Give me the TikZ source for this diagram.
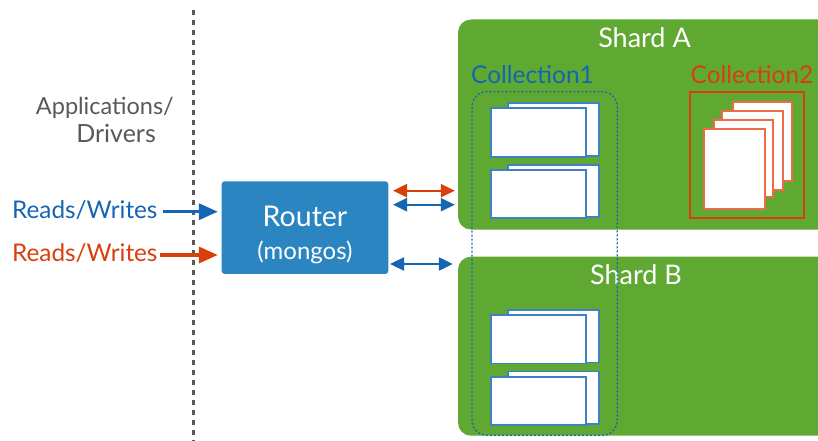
\documentclass[tikz,border=0pt]{standalone}
\usepackage{fontspec}
\setmainfont{Lato}
\usetikzlibrary{calc,arrows.meta}
\definecolor{cblue}{HTML}{1565B4}
\definecolor{cred}{HTML}{D93F0B}
\definecolor{cgreen}{HTML}{5FA832}
\definecolor{crouter}{HTML}{2B85C1}
\definecolor{cgray}{HTML}{58595B}
\definecolor{cpage}{HTML}{3F82C4}
\definecolor{cpager}{HTML}{EE6C45}
\tikzset{
  x=1pt,y=-1pt,
  shardbox/.style={fill=cgreen,rounded corners=13pt,inner sep=0pt,minimum width=392pt},
  routerbox/.style={fill=crouter,rounded corners=3pt,inner sep=0pt,minimum width=166.6pt,minimum height=92.7pt},
  shardlabel/.style={text=white,font=\fontsize{27}{30}\selectfont,inner sep=0pt},
  colllabel/.style={font=\fontsize{24.4}{30}\selectfont,inner sep=0pt},
  rwlabel/.style={font=\fontsize{24.3}{28}\selectfont,inner sep=0pt,anchor=west},
  applabel/.style={text=cgray,inner sep=0pt,anchor=east},
  bluepage/.style={draw=cpage,line width=1.8pt,fill=white},
  redpage/.style={draw=cpager,line width=1.8pt,fill=white},
  inarrow/.style={line width=3.4pt,-{Triangle[length=19pt,width=16pt]},shorten >=3.7pt},
  bothways/.style={line width=2.3pt,{Triangle[length=14pt,width=13pt]}-{Triangle[length=14pt,width=13pt]}},
}
\newcommand{\pagebox}[5]{\path[#1] (#2,#3) rectangle (#4,#5);}
\newcommand{\docpair}[1]{%
  \pagebox{bluepage}{507.7}{#1}{599.3}{#1+52.7}
  \pagebox{bluepage}{490.7}{#1+5.3}{586}{#1+53.7}
  \pagebox{bluepage}{507.7}{#1+61.7}{599.3}{#1+114.3}
  \pagebox{bluepage}{490.7}{#1+67.3}{586}{#1+115.3}
}
\begin{document}
\begin{tikzpicture}
\path[clip] (0,0) rectangle (818,441);
\fill[white] (0,0) rectangle (818,441);
% shards
\node[shardbox,minimum height=210pt] (shardA) at (654,124.5) {};
\node[shardbox,minimum height=179pt] (shardB) at (654,346.2) {};
\node[shardlabel] (labelA) at (644.5,38) {Shard A};
\node[shardlabel] (labelB) at (636,274.5) {Shard B};
\node[colllabel,text=cblue] (coll1) at (532.5,74.5) {Collection1};
\node[colllabel,text=cred] (coll2) at (752,74.5) {Collection2};
% collection 1 docs
\docpair{103}
\docpair{309.7}
% collection 2
\draw[cred,line width=1.6pt] (690,92) rectangle (804,218);
\path[redpage] (732.7,101.7) rectangle (791.7,180.7);
\path[redpage] (721.7,110.7) rectangle (782.7,190.3);
\path[redpage] (714.3,119.7) rectangle (773.3,197.3);
\path[redpage] (703.7,128.7) rectangle (765,208.7);
% dotted outline of the collection
\draw[cblue,line width=1.3pt,dash pattern=on 2pt off 2pt,rounded corners=15pt] (472,91.7) rectangle (617.3,435.3);
% divider
\draw[cgray,line width=2.8pt,dash pattern=on 5pt off 5pt] (193.5,10) -- (193.5,441);
% router
\node[routerbox] (router) at (305,227.6) {};
\node[text=white,font=\fontsize{28.5}{30}\selectfont,inner sep=0pt] (routerT) at (305,216) {Router};
\node[text=white,font=\fontsize{24}{26}\selectfont,inner sep=0pt] (routerS) at (305,252) {(mongos)};
% labels
\node[applabel,font=\fontsize{23.5}{28}\selectfont] (apps) at (174,107.5) {Applications/};
\node[applabel,font=\fontsize{25}{28}\selectfont] (drivers) at (156,133.5) {Drivers};
\node[rwlabel,text=cblue] (rwb) at (12,210) {Reads/Writes};
\node[rwlabel,text=cred] (rwr) at (12,253) {Reads/Writes};
% connectors
\coordinate (bstart) at (162.7,211.7);
\coordinate (rstart) at (160,255);
\draw[inarrow,cblue] (bstart) -- (router.west |- bstart);
\draw[inarrow,cred] (rstart) -- (router.west |- rstart);
\coordinate (linkred) at (393,190.7);
\coordinate (linkblue) at (393,204.7);
\coordinate (linkb) at (390,264);
\draw[bothways,cred] (linkred) -- ([xshift=-3pt]shardA.west |- linkred);
\draw[bothways,cblue] (linkblue) -- ([xshift=-3pt]shardA.west |- linkblue);
\draw[bothways,cblue] (linkb) -- ([xshift=-5pt]shardB.west |- linkb);
\end{tikzpicture}
\end{document}
